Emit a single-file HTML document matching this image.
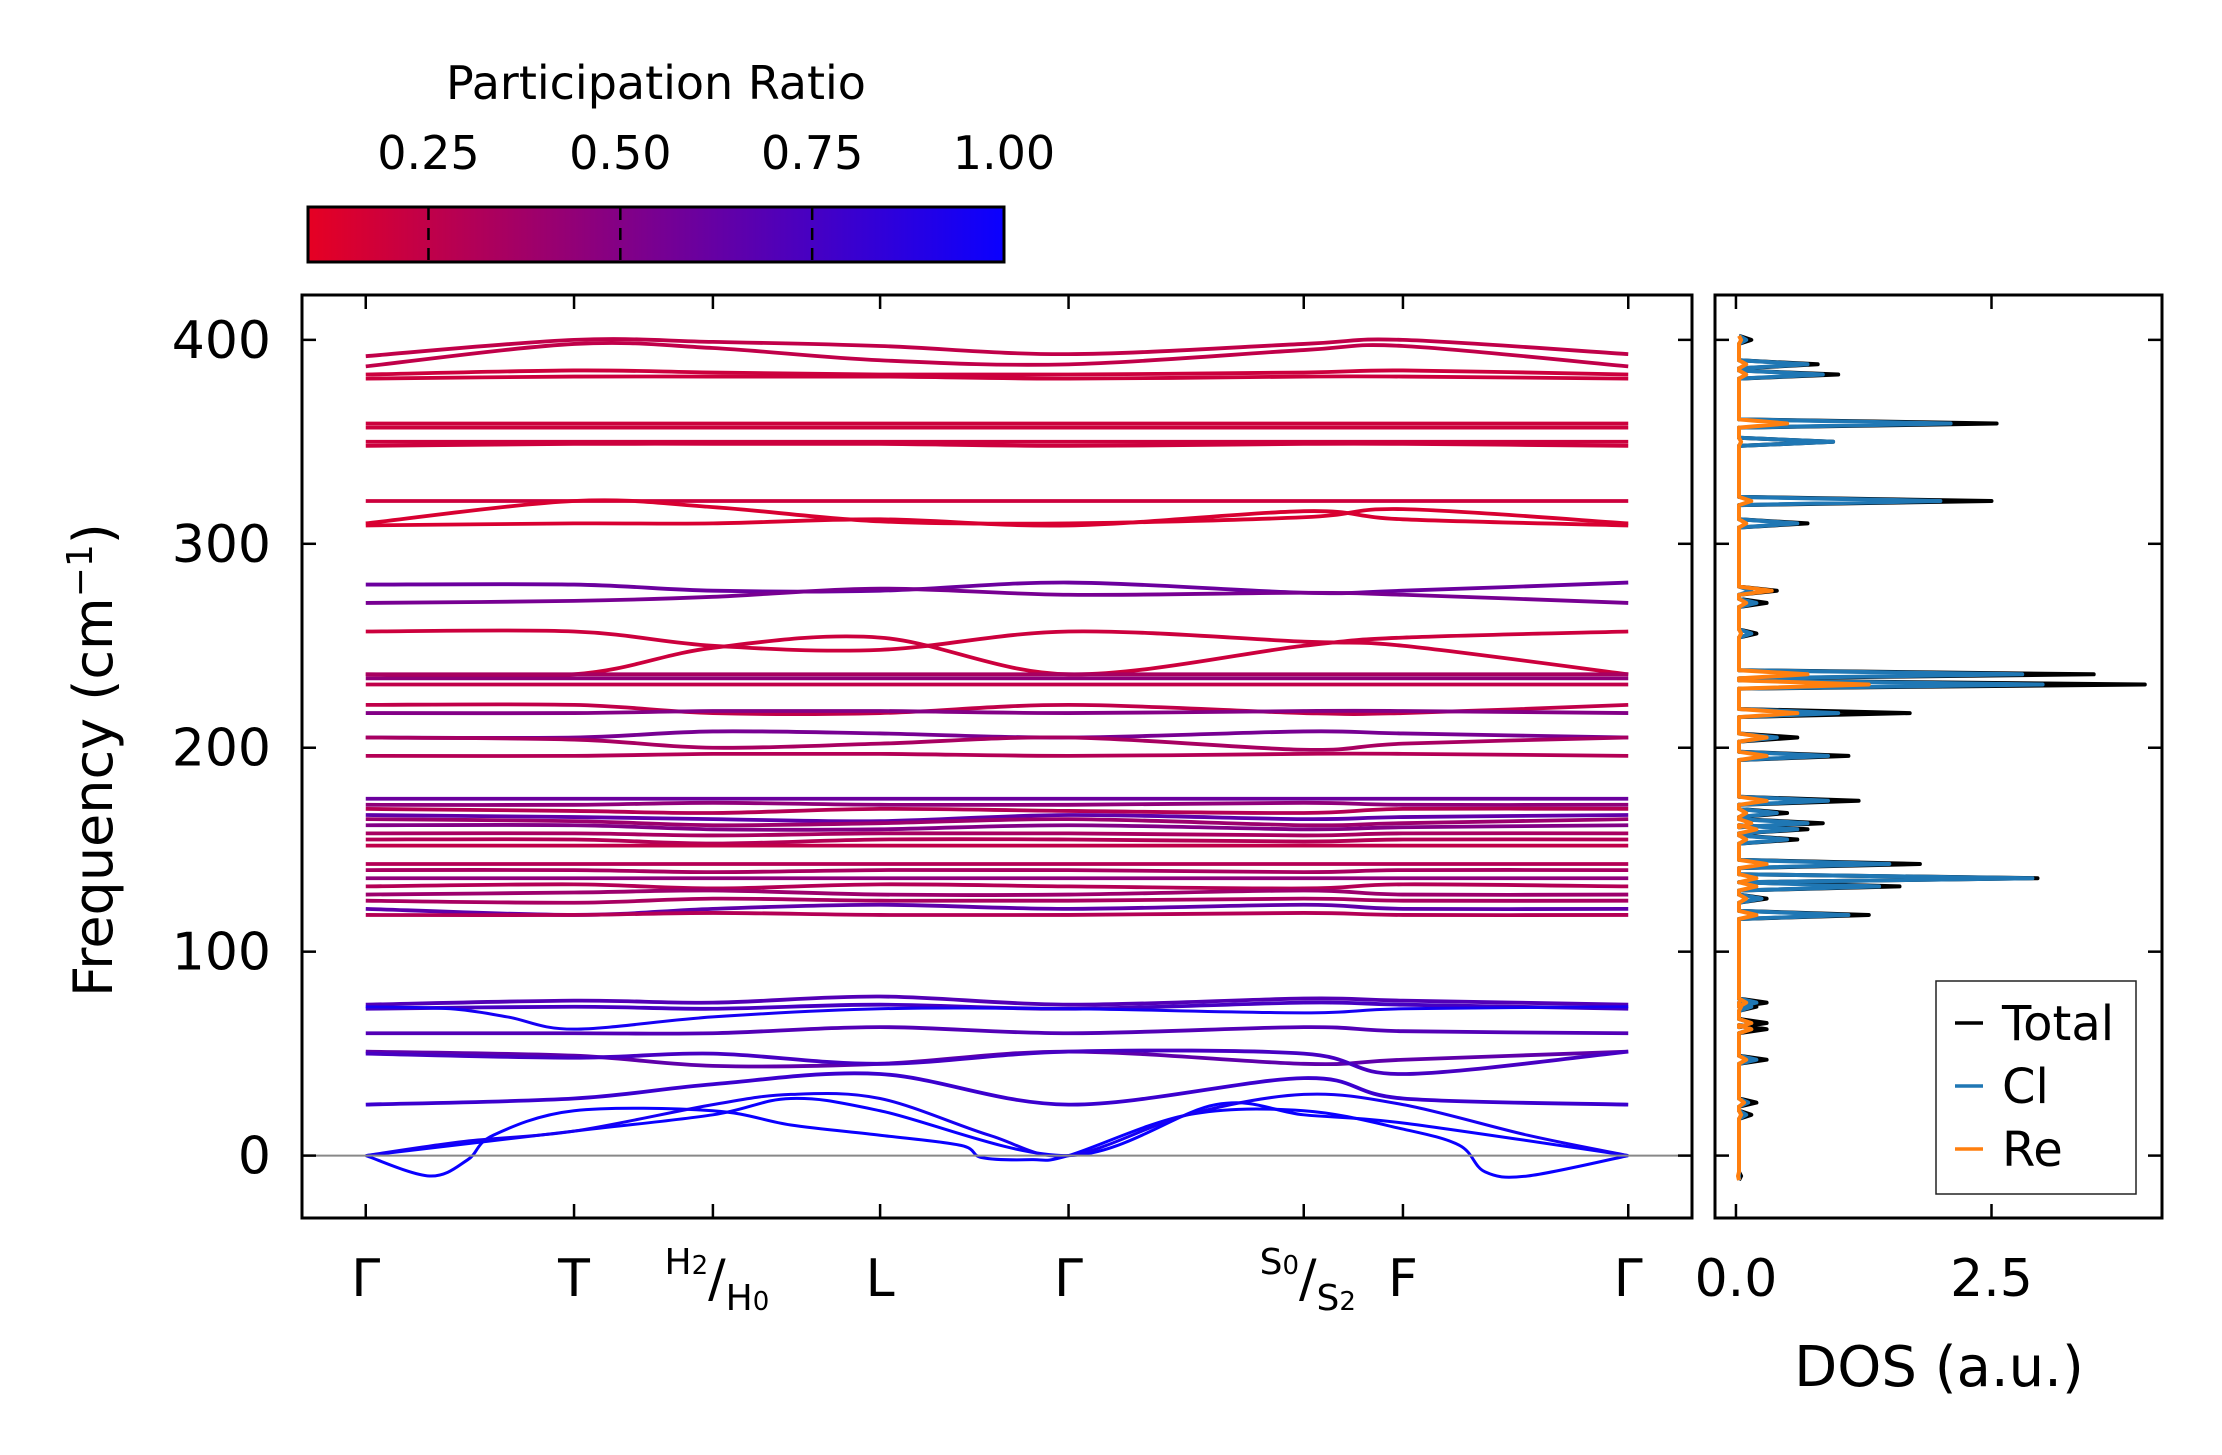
<!DOCTYPE html>
<html><head><meta charset="utf-8"><style>
html,body{margin:0;padding:0;background:#fff;}
svg{display:block;font-family:"DejaVu Sans","Liberation Sans",sans-serif;}
</style></head><body>
<svg id="fig" width="2222" height="1455" viewBox="0 0 2222 1455">
<defs>
<linearGradient id="cbgrad" x1="0" x2="1" y1="0" y2="0">
<stop offset="0" stop-color="rgb(230,0,35)"/><stop offset="1" stop-color="rgb(10,0,255)"/>
</linearGradient>
<clipPath id="mainclip"><rect x="302" y="295" width="1390" height="923"/></clipPath>
<clipPath id="dosclip"><rect x="1715" y="295" width="447" height="923"/></clipPath>
</defs>
<g>
<text x="656" y="99" font-size="46" text-anchor="middle">Participation Ratio</text>
<rect x="308" y="207" width="696" height="55" fill="url(#cbgrad)" stroke="#000" stroke-width="3"/>
<g id="cbticks"></g>
</g>
<g id="bands" clip-path="url(#mainclip)"></g>
<line x1="302" x2="1692" id="zeroline" stroke="#888" stroke-width="2"/>
<rect x="302" y="295" width="1390" height="923" fill="none" stroke="#000" stroke-width="3"/>
<g id="mainticks"></g>
<text transform="translate(112,760) rotate(-90)" font-size="54" text-anchor="middle">Frequency (cm<tspan baseline-shift="super" font-size="36">−1</tspan>)</text>
<g id="dos" clip-path="url(#dosclip)"></g>
<rect x="1715" y="295" width="447" height="923" fill="none" stroke="#000" stroke-width="3"/>
<g id="dosticks"></g>
<text x="1939" y="1386" font-size="56" text-anchor="middle">DOS (a.u.)</text>
<g>
<rect x="1936" y="981" width="200" height="213" fill="#fff" stroke="#222" stroke-width="1.5"/>
<line x1="1955" x2="1983" y1="1023" y2="1023" stroke="#000" stroke-width="3.5"/>
<text x="2002" y="1040" font-size="48">Total</text>
<line x1="1955" x2="1983" y1="1086" y2="1086" stroke="#1f77b4" stroke-width="3.5"/>
<text x="2002" y="1103" font-size="48">Cl</text>
<line x1="1955" x2="1983" y1="1149" y2="1149" stroke="#ff7f0e" stroke-width="3.5"/>
<text x="2002" y="1166" font-size="48">Re</text>
</g>
</svg>
<script>
// ---- band structure data ----
const kNodes = [0,147,245,363,496,662,732,891];
const kLabels = ["Γ","T","H","L","Γ","S","F","Γ"];
const bandFreqs = [
 [392,400,399,397,393,398,400,393],[387,398,396,390,388,395,397,387],
 [383,385,384,383,383,384,385,383],[381,382,382,382,381,382,382,381],
 [359,359,359,359,359,359,359,359],[357,357,357,357,357,357,357,357],
 [350,350,350,350,350,350,350,350],[348,349,349,349,348,349,349,348],
 [321,321,321,321,321,321,321,321],[310,321,318,311,310,313,317,310],
 [309,310,310,312,309,316,312,309],
 [280,280,277,277,281,276,277,281],[271,272,274,278,275,276,275,271],
 [257,257,250,248,257,252,250,236],[236,236,249,254,236,250,254,257],
 [236,236,236,236,236,236,236,236],[234,234,234,234,234,234,234,234],[231,231,231,231,231,231,231,231],
 [221,221,217,217,221,217,217,221],[217,217,218,218,217,218,218,217],
 [205,205,208,207,205,208,207,205],[205,204,200,202,205,199,202,205],[196,196,197,197,196,197,197,196],
 [175,175,175,175,175,175,175,175],[172,172,173,172,172,173,172,172],[170,169,168,170,169,168,170,170],
 [167,166,165,164,167,165,166,167],[165,164,162,163,165,162,163,165],[162,162,160,160,162,160,161,162],
 [158,158,157,158,158,157,158,158],[155,155,153,155,155,154,155,155],[152,152,152,152,152,152,152,152],
 [143,143,143,143,143,143,143,143],[140,140,139,140,140,139,140,140],[136,136,136,136,136,136,136,136],
 [132,133,131,133,132,131,133,132],[128,129,130,128,128,130,128,128],[125,124,126,125,125,126,125,125],
 [121,118,121,123,121,123,121,121],[118,118,119,118,118,119,118,118],
 [74,76,75,78,74,77,76,74],[72,73,72,74,72,75,74,72],
 [60,60,60,63,60,63,61,60],[51,49,44,45,51,45,47,51],[50,48,50,45,51,50,40,51],
 [25,28,35,40,25,38,28,25]
];
const bandPR = [0.25,0.25,0.2,0.2, 0.2,0.2,0.2,0.2, 0.2,0.15,0.15,
 0.6,0.55, 0.2,0.2, 0.35,0.45,0.25, 0.25,0.5, 0.55,0.35,0.3,
 0.6,0.45,0.3,0.65,0.4,0.5,0.35,0.3,0.25, 0.3,0.35,0.45,0.3,0.4,0.35,0.65,0.3,
 0.7,0.75,0.7,0.65,0.75,0.8];
const acK = [
 [0,45,72,90,147,245,300,363,420,435,470,496,580,662,732,772,790,820,891],
 [0,147,245,300,363,496,600,662,732,891],
 [0,70,147,245,300,363,440,496,580,662,732,820,891],
 [0,60,100,147,245,363,496,662,732,891]
];
const acF = [
 [0,-10,-2,10,22,22,15,10,5,-1,-2,0,20,22,13,5,-8,-10,0],
 [0,12,20,28,22,0,25,20,16,0],
 [0,7,12,25,30,28,10,0,20,30,25,10,0],
 [73,72,68,62,68,72,72,70,72,73]
];
const acPR = [1.0,1.0,0.95,0.95];
// ---- DOS data ----
const dosFreq  = [-10,20,26,47,62,65,73,75,118,126,132,136,143,155,160,163,168,174,196,205,217,231,236,256,271,277,310,321,350,359,383,388,400];
const dosTotal = [0.05,0.15,0.2,0.3,0.3,0.3,0.2,0.3,1.3,0.3,1.6,2.95,1.8,0.6,0.7,0.85,0.5,1.2,1.1,0.6,1.7,4.0,3.5,0.2,0.3,0.4,0.7,2.5,0.95,2.55,1.0,0.8,0.15];
const dosCl    = [0.03,0.1,0.12,0.2,0.15,0.15,0.15,0.2,1.1,0.25,1.4,2.9,1.5,0.5,0.6,0.7,0.4,0.9,0.9,0.4,1.0,3.0,2.8,0.15,0.2,0.15,0.6,2.0,0.95,2.1,0.85,0.7,0.1];
const dosRe    = [0.02,0.05,0.08,0.1,0.15,0.15,0.05,0.1,0.2,0.1,0.2,0.2,0.3,0.1,0.2,0.15,0.1,0.3,0.3,0.3,0.6,1.3,0.7,0.05,0.1,0.35,0.1,0.15,0.05,0.5,0.1,0.1,0.05];
const freqTicks = [0,100,200,300,400];
const dosTicks = [0,2.5];
const dosTickLabels = ["0.0","2.5"];
const cbTicks = [0.25,0.5,0.75,1.0];
const cbTickLabels = ["0.25","0.50","0.75","1.00"];

const NS="http://www.w3.org/2000/svg";
function mk(tag,attrs,parent){const e=document.createElementNS(NS,tag);for(const k in attrs)e.setAttribute(k,attrs[k]);parent.appendChild(e);return e;}
const kMin=-45,kMax=936,fMin=-30.6,fMax=422;
const X=k=>302+(k-kMin)/(kMax-kMin)*1390;
const Y=f=>1218-(f-fMin)/(fMax-fMin)*923;
const dMin=-0.205,dMax=4.168;
const DX=d=>1715+(d-dMin)/(dMax-dMin)*447;
const cbMin=0.093,cbMax=1.0;
const CBX=v=>308+(v-cbMin)/(cbMax-cbMin)*696;
function col(pr){let t=(pr-cbMin)/(cbMax-cbMin);t=Math.max(0,Math.min(1,t));
 return `rgb(${Math.round(230+(10-230)*t)},0,${Math.round(35+(255-35)*t)})`;}
function smoothPath(ks,fs){
 const p=ks.map((k,i)=>[X(k),Y(fs[i])]);let d=`M${p[0][0]},${p[0][1]}`;
 for(let i=0;i<p.length-1;i++){const p0=p[Math.max(0,i-1)],p1=p[i],p2=p[i+1],p3=p[Math.min(p.length-1,i+2)];
  const c1=[p1[0]+(p2[0]-p0[0])/6,p1[1]+(p2[1]-p0[1])/6],c2=[p2[0]-(p3[0]-p1[0])/6,p2[1]-(p3[1]-p1[1])/6];
  d+=` C${c1[0]},${c1[1]} ${c2[0]},${c2[1]} ${p2[0]},${p2[1]}`;}
 return d;}
const bands=document.getElementById('bands');
bandFreqs.forEach((fs,i)=>{
 const e=mk('path',{d:smoothPath(kNodes,fs),fill:'none',stroke:col(bandPR[i]),'stroke-width':3.8},bands);
 
 
});
acK.forEach((ks,i)=>{
 const e=mk('path',{d:smoothPath(ks,acF[i]),fill:'none',stroke:col(acPR[i]),'stroke-width':3},bands);
 
 
});
const zl=document.getElementById('zeroline');zl.setAttribute('y1',Y(0));zl.setAttribute('y2',Y(0));
const mt=document.getElementById('mainticks');
kNodes.forEach((k,i)=>{
 mk('line',{x1:X(k),x2:X(k),y1:1218,y2:1204,stroke:'#000','stroke-width':2.5},mt);
 mk('line',{x1:X(k),x2:X(k),y1:295,y2:309,stroke:'#000','stroke-width':2.5},mt);
});
function kl(x,txt){const t=mk('text',{x:x,y:1296,'font-size':52,'text-anchor':'middle'},mt);t.textContent=txt;
 
 return t;}
kl(X(0),"Γ");kl(X(147),"T");kl(X(363),"L");kl(X(496),"Γ");kl(X(732),"F");kl(X(891),"Γ");
function split(x,a,b){const g=mk('text',{x:x,y:1296,'font-size':36,'text-anchor':'middle'},mt);
 g.innerHTML=`<tspan dy="-22">${a[0]}</tspan><tspan font-size="26" dy="0">${a[1]}</tspan><tspan font-size="52" dy="22">/</tspan><tspan dy="14">${b[0]}</tspan><tspan font-size="26">${b[1]}</tspan>`;
 
 }
split(X(245)+4,["H","2"],["H","0"]);split(X(662)+4,["S","0"],["S","2"]);
freqTicks.forEach(f=>{
 mk('line',{x1:302,x2:316,y1:Y(f),y2:Y(f),stroke:'#000','stroke-width':2.5},mt);
 mk('line',{x1:1692,x2:1678,y1:Y(f),y2:Y(f),stroke:'#000','stroke-width':2.5},mt);
 mk('line',{x1:1715,x2:1729,y1:Y(f),y2:Y(f),stroke:'#000','stroke-width':2.5},mt);
 mk('line',{x1:2162,x2:2148,y1:Y(f),y2:Y(f),stroke:'#000','stroke-width':2.5},mt);
 const t=mk('text',{x:271,y:Y(f)+18,'font-size':52,'text-anchor':'end'},mt);t.textContent=f;
 
 
});
const dt=document.getElementById('dosticks');
dosTicks.forEach((d,i)=>{
 mk('line',{x1:DX(d),x2:DX(d),y1:1218,y2:1204,stroke:'#000','stroke-width':2.5},dt);
 mk('line',{x1:DX(d),x2:DX(d),y1:295,y2:309,stroke:'#000','stroke-width':2.5},dt);
 const t=mk('text',{x:DX(d),y:1296,'font-size':52,'text-anchor':'middle'},dt);t.textContent=dosTickLabels[i];
 
 
});
function dosPath(vals){let pts=[];
 dosFreq.forEach((f,i)=>{pts.push([DX(0.03),Y(f-2)]);pts.push([DX(vals[i]),Y(f)]);pts.push([DX(0.03),Y(f+2)]);});
 return 'M'+pts.map(p=>p[0].toFixed(1)+','+p[1].toFixed(1)).join(' L');}
const dg=document.getElementById('dos');
[[dosTotal,'#000','dos-total-line'],[dosCl,'#1f77b4','dos-cl-line'],[dosRe,'#ff7f0e','dos-re-line']].forEach(s=>{
 const e=mk('path',{d:dosPath(s[0]),fill:'none',stroke:s[1],'stroke-width':4,'stroke-linejoin':'round'},dg);
 
 
});
const cb=document.getElementById('cbticks');
cbTicks.forEach((v,i)=>{
 if(v<1) mk('line',{x1:CBX(v),x2:CBX(v),y1:208,y2:261,stroke:'#000','stroke-width':2.5,'stroke-dasharray':'12,8'},cb);
 const t=mk('text',{x:CBX(v),y:169,'font-size':46,'text-anchor':'middle'},cb);t.textContent=cbTickLabels[i];
 
 
});
</script>
</body></html>
